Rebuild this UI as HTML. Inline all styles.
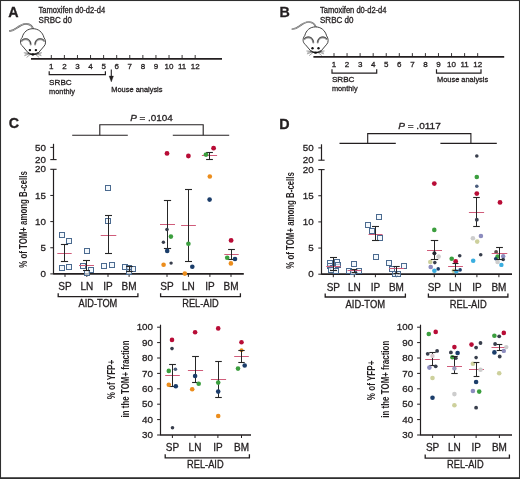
<!DOCTYPE html><html><head><meta charset="utf-8"><style>html,body{margin:0;padding:0;background:#fff;}svg{display:block;font-family:"Liberation Sans", sans-serif;will-change:transform}</style></head><body>
<svg width="520" height="479" viewBox="0 0 520 479"  fill="#231f20">
<rect x="0" y="0" width="520" height="479" fill="#fff"/>
<text x="8.3" y="17.2" font-size="14.3" font-weight="bold" stroke="#231f20" stroke-width="0.3" >A</text>
<text x="38.6" y="13.1" font-size="8.2" textLength="66.5" lengthAdjust="spacingAndGlyphs" stroke="#231f20" stroke-width="0.3" >Tamoxifen d0-d2-d4</text>
<text x="38.6" y="22.7" font-size="8.2" textLength="33.4" lengthAdjust="spacingAndGlyphs" stroke="#231f20" stroke-width="0.3" >SRBC d0</text>
<g transform="translate(0,0)" fill="none" stroke-linecap="round" stroke-linejoin="round">
<path d="M33.2,28.9 C32.4,26.2 30,24.1 26.5,23.8 C22.5,23.5 19.5,25.8 16.5,28.2 C14.5,29.8 12.3,31.0 9.8,30.8" stroke="#5e5e5e" stroke-width="1.7"/>
<path d="M33.2,28.9 C32.4,26.2 30,24.1 26.5,23.8 C22.5,23.5 19.5,25.8 16.5,28.2 C14.5,29.8 12.3,31.0 9.8,30.8" stroke="#d8d8d8" stroke-width="0.6"/>
<path d="M22.3,46.0 C20.0,44.5 19.8,40.0 22.1,37.6 C23.5,32.0 27.5,28.7 32.9,28.7 C38.3,28.7 42.5,32.0 44.0,37.6 C46.0,40.0 46.0,44.5 44.2,46.0 L38.6,52.6 C36.0,55.0 30.0,55.0 28.0,52.6 Z" stroke="#2e2e2e" stroke-width="0.9" fill="#fff"/>
<path d="M21.8,40.3 C23.4,38.4 27.4,37.9 29.4,40.3 C30.3,41.4 30.7,42.6 30.7,43.8" stroke="#9a9a9a" stroke-width="2.0" transform="translate(0,0.6)"/>
<path d="M21.8,40.3 C23.4,38.4 27.4,37.9 29.4,40.3 C30.3,41.4 30.7,42.6 30.7,43.8" stroke="#333" stroke-width="0.8"/>
<path d="M44.0,40.3 C42.4,38.4 38.4,37.9 36.4,40.3 C35.5,41.4 35.1,42.6 35.1,43.8" stroke="#9a9a9a" stroke-width="2.0" transform="translate(0,0.6)"/>
<path d="M44.0,40.3 C42.4,38.4 38.4,37.9 36.4,40.3 C35.5,41.4 35.1,42.6 35.1,43.8" stroke="#333" stroke-width="0.8"/>
<path d="M28.3,52.9 C30.5,54.9 35.5,54.9 38.3,52.9" stroke="#1a1a1a" stroke-width="1.3"/>
<line x1="29.0" y1="53.0" x2="24.2" y2="52.8" stroke="#555" stroke-width="0.55"/>
<line x1="36.8" y1="53.0" x2="41.599999999999994" y2="52.8" stroke="#555" stroke-width="0.55"/>
<line x1="29.4" y1="53.9" x2="24.7" y2="55.6" stroke="#555" stroke-width="0.55"/>
<line x1="36.4" y1="53.9" x2="41.099999999999994" y2="55.6" stroke="#555" stroke-width="0.55"/>
<line x1="30.0" y1="54.6" x2="26.9" y2="57.2" stroke="#555" stroke-width="0.55"/>
<line x1="35.8" y1="54.6" x2="38.9" y2="57.2" stroke="#555" stroke-width="0.55"/>
<line x1="29.2" y1="53.5" x2="25.2" y2="54.0" stroke="#555" stroke-width="0.55"/>
<line x1="36.599999999999994" y1="53.5" x2="40.599999999999994" y2="54.0" stroke="#555" stroke-width="0.55"/>
</g>
<g transform="translate(0,0)" fill="#111">
<circle cx="29.9" cy="50.1" r="1.2"/><circle cx="35.9" cy="50.1" r="1.2"/>
<ellipse cx="32.9" cy="54.5" rx="1.6" ry="1.15"/>
</g>
<line x1="31.00" y1="58.80" x2="222.00" y2="58.80" stroke="#231f20" stroke-width="1.7" />
<line x1="51.30" y1="55.00" x2="51.30" y2="58.80" stroke="#231f20" stroke-width="0.9" />
<text x="51.30" y="69.4" font-size="8" text-anchor="middle" stroke="#231f20" stroke-width="0.3" >1</text>
<line x1="64.38" y1="55.00" x2="64.38" y2="58.80" stroke="#231f20" stroke-width="0.9" />
<text x="64.38" y="69.4" font-size="8" text-anchor="middle" stroke="#231f20" stroke-width="0.3" >2</text>
<line x1="77.46" y1="55.00" x2="77.46" y2="58.80" stroke="#231f20" stroke-width="0.9" />
<text x="77.46" y="69.4" font-size="8" text-anchor="middle" stroke="#231f20" stroke-width="0.3" >3</text>
<line x1="90.54" y1="55.00" x2="90.54" y2="58.80" stroke="#231f20" stroke-width="0.9" />
<text x="90.54" y="69.4" font-size="8" text-anchor="middle" stroke="#231f20" stroke-width="0.3" >4</text>
<line x1="103.62" y1="55.00" x2="103.62" y2="58.80" stroke="#231f20" stroke-width="0.9" />
<text x="103.62" y="69.4" font-size="8" text-anchor="middle" stroke="#231f20" stroke-width="0.3" >5</text>
<line x1="116.70" y1="55.00" x2="116.70" y2="58.80" stroke="#231f20" stroke-width="0.9" />
<text x="116.70" y="69.4" font-size="8" text-anchor="middle" stroke="#231f20" stroke-width="0.3" >6</text>
<line x1="129.78" y1="55.00" x2="129.78" y2="58.80" stroke="#231f20" stroke-width="0.9" />
<text x="129.78" y="69.4" font-size="8" text-anchor="middle" stroke="#231f20" stroke-width="0.3" >7</text>
<line x1="142.86" y1="55.00" x2="142.86" y2="58.80" stroke="#231f20" stroke-width="0.9" />
<text x="142.86" y="69.4" font-size="8" text-anchor="middle" stroke="#231f20" stroke-width="0.3" >8</text>
<line x1="155.94" y1="55.00" x2="155.94" y2="58.80" stroke="#231f20" stroke-width="0.9" />
<text x="155.94" y="69.4" font-size="8" text-anchor="middle" stroke="#231f20" stroke-width="0.3" >9</text>
<line x1="169.02" y1="55.00" x2="169.02" y2="58.80" stroke="#231f20" stroke-width="0.9" />
<text x="169.02" y="69.4" font-size="8" text-anchor="middle" stroke="#231f20" stroke-width="0.3" >10</text>
<line x1="182.10" y1="55.00" x2="182.10" y2="58.80" stroke="#231f20" stroke-width="0.9" />
<text x="182.10" y="69.4" font-size="8" text-anchor="middle" stroke="#231f20" stroke-width="0.3" >11</text>
<line x1="195.18" y1="55.00" x2="195.18" y2="58.80" stroke="#231f20" stroke-width="0.9" />
<text x="195.18" y="69.4" font-size="8" text-anchor="middle" stroke="#231f20" stroke-width="0.3" >12</text>
<path d="M49.2,71.2 V74.7 H105.4 V71.2" stroke="#231f20" stroke-width="1.2" fill="none" />
<text x="49.1" y="85.0" font-size="8.0" textLength="22.6" lengthAdjust="spacingAndGlyphs" stroke="#231f20" stroke-width="0.3" >SRBC</text>
<text x="49.1" y="94.0" font-size="7.8" textLength="25.8" lengthAdjust="spacingAndGlyphs" stroke="#231f20" stroke-width="0.3" >monthly</text>
<line x1="111.30" y1="69.60" x2="111.30" y2="77.00" stroke="#231f20" stroke-width="1.1" />
<path d="M109.1,76 L113.5,76 L111.3,82 Z" stroke="#231f20" stroke-width="0.3" fill="#231f20" />
<text x="111.3" y="91.5" font-size="7.8" textLength="51.2" lengthAdjust="spacingAndGlyphs" stroke="#231f20" stroke-width="0.3" >Mouse analysis</text>
<text x="279.6" y="16.9" font-size="14.3" font-weight="bold" stroke="#231f20" stroke-width="0.3" >B</text>
<text x="320.0" y="13.1" font-size="8.2" textLength="66.5" lengthAdjust="spacingAndGlyphs" stroke="#231f20" stroke-width="0.3" >Tamoxifen d0-d2-d4</text>
<text x="320.0" y="22.7" font-size="8.2" textLength="33.4" lengthAdjust="spacingAndGlyphs" stroke="#231f20" stroke-width="0.3" >SRBC d0</text>
<g transform="translate(282.6,-1.8)" fill="none" stroke-linecap="round" stroke-linejoin="round">
<path d="M33.2,28.9 C32.4,26.2 30,24.1 26.5,23.8 C22.5,23.5 19.5,25.8 16.5,28.2 C14.5,29.8 12.3,31.0 9.8,30.8" stroke="#5e5e5e" stroke-width="1.7"/>
<path d="M33.2,28.9 C32.4,26.2 30,24.1 26.5,23.8 C22.5,23.5 19.5,25.8 16.5,28.2 C14.5,29.8 12.3,31.0 9.8,30.8" stroke="#d8d8d8" stroke-width="0.6"/>
<path d="M22.3,46.0 C20.0,44.5 19.8,40.0 22.1,37.6 C23.5,32.0 27.5,28.7 32.9,28.7 C38.3,28.7 42.5,32.0 44.0,37.6 C46.0,40.0 46.0,44.5 44.2,46.0 L38.6,52.6 C36.0,55.0 30.0,55.0 28.0,52.6 Z" stroke="#2e2e2e" stroke-width="0.9" fill="#fff"/>
<path d="M21.8,40.3 C23.4,38.4 27.4,37.9 29.4,40.3 C30.3,41.4 30.7,42.6 30.7,43.8" stroke="#9a9a9a" stroke-width="2.0" transform="translate(0,0.6)"/>
<path d="M21.8,40.3 C23.4,38.4 27.4,37.9 29.4,40.3 C30.3,41.4 30.7,42.6 30.7,43.8" stroke="#333" stroke-width="0.8"/>
<path d="M44.0,40.3 C42.4,38.4 38.4,37.9 36.4,40.3 C35.5,41.4 35.1,42.6 35.1,43.8" stroke="#9a9a9a" stroke-width="2.0" transform="translate(0,0.6)"/>
<path d="M44.0,40.3 C42.4,38.4 38.4,37.9 36.4,40.3 C35.5,41.4 35.1,42.6 35.1,43.8" stroke="#333" stroke-width="0.8"/>
<path d="M28.3,52.9 C30.5,54.9 35.5,54.9 38.3,52.9" stroke="#1a1a1a" stroke-width="1.3"/>
<line x1="29.0" y1="53.0" x2="24.2" y2="52.8" stroke="#555" stroke-width="0.55"/>
<line x1="36.8" y1="53.0" x2="41.599999999999994" y2="52.8" stroke="#555" stroke-width="0.55"/>
<line x1="29.4" y1="53.9" x2="24.7" y2="55.6" stroke="#555" stroke-width="0.55"/>
<line x1="36.4" y1="53.9" x2="41.099999999999994" y2="55.6" stroke="#555" stroke-width="0.55"/>
<line x1="30.0" y1="54.6" x2="26.9" y2="57.2" stroke="#555" stroke-width="0.55"/>
<line x1="35.8" y1="54.6" x2="38.9" y2="57.2" stroke="#555" stroke-width="0.55"/>
<line x1="29.2" y1="53.5" x2="25.2" y2="54.0" stroke="#555" stroke-width="0.55"/>
<line x1="36.599999999999994" y1="53.5" x2="40.599999999999994" y2="54.0" stroke="#555" stroke-width="0.55"/>
</g>
<g transform="translate(282.6,-1.8)" fill="#111">
<circle cx="29.9" cy="50.1" r="1.2"/><circle cx="35.9" cy="50.1" r="1.2"/>
<ellipse cx="32.9" cy="54.5" rx="1.6" ry="1.15"/>
</g>
<line x1="313.40" y1="56.90" x2="504.20" y2="56.90" stroke="#231f20" stroke-width="1.7" />
<line x1="334.00" y1="53.10" x2="334.00" y2="56.90" stroke="#231f20" stroke-width="0.9" />
<text x="334.00" y="67.3" font-size="8" text-anchor="middle" stroke="#231f20" stroke-width="0.3" >1</text>
<line x1="347.06" y1="53.10" x2="347.06" y2="56.90" stroke="#231f20" stroke-width="0.9" />
<text x="347.06" y="67.3" font-size="8" text-anchor="middle" stroke="#231f20" stroke-width="0.3" >2</text>
<line x1="360.12" y1="53.10" x2="360.12" y2="56.90" stroke="#231f20" stroke-width="0.9" />
<text x="360.12" y="67.3" font-size="8" text-anchor="middle" stroke="#231f20" stroke-width="0.3" >3</text>
<line x1="373.18" y1="53.10" x2="373.18" y2="56.90" stroke="#231f20" stroke-width="0.9" />
<text x="373.18" y="67.3" font-size="8" text-anchor="middle" stroke="#231f20" stroke-width="0.3" >4</text>
<line x1="386.24" y1="53.10" x2="386.24" y2="56.90" stroke="#231f20" stroke-width="0.9" />
<text x="386.24" y="67.3" font-size="8" text-anchor="middle" stroke="#231f20" stroke-width="0.3" >5</text>
<line x1="399.30" y1="53.10" x2="399.30" y2="56.90" stroke="#231f20" stroke-width="0.9" />
<text x="399.30" y="67.3" font-size="8" text-anchor="middle" stroke="#231f20" stroke-width="0.3" >6</text>
<line x1="412.36" y1="53.10" x2="412.36" y2="56.90" stroke="#231f20" stroke-width="0.9" />
<text x="412.36" y="67.3" font-size="8" text-anchor="middle" stroke="#231f20" stroke-width="0.3" >7</text>
<line x1="425.42" y1="53.10" x2="425.42" y2="56.90" stroke="#231f20" stroke-width="0.9" />
<text x="425.42" y="67.3" font-size="8" text-anchor="middle" stroke="#231f20" stroke-width="0.3" >8</text>
<line x1="438.48" y1="53.10" x2="438.48" y2="56.90" stroke="#231f20" stroke-width="0.9" />
<text x="438.48" y="67.3" font-size="8" text-anchor="middle" stroke="#231f20" stroke-width="0.3" >9</text>
<line x1="451.54" y1="53.10" x2="451.54" y2="56.90" stroke="#231f20" stroke-width="0.9" />
<text x="451.54" y="67.3" font-size="8" text-anchor="middle" stroke="#231f20" stroke-width="0.3" >10</text>
<line x1="464.60" y1="53.10" x2="464.60" y2="56.90" stroke="#231f20" stroke-width="0.9" />
<text x="464.60" y="67.3" font-size="8" text-anchor="middle" stroke="#231f20" stroke-width="0.3" >11</text>
<line x1="477.66" y1="53.10" x2="477.66" y2="56.90" stroke="#231f20" stroke-width="0.9" />
<text x="477.66" y="67.3" font-size="8" text-anchor="middle" stroke="#231f20" stroke-width="0.3" >12</text>
<path d="M332,69.2 V73.2 H376.7 V69.2" stroke="#231f20" stroke-width="1.2" fill="none" />
<text x="331.9" y="82.0" font-size="8.0" textLength="22.6" lengthAdjust="spacingAndGlyphs" stroke="#231f20" stroke-width="0.3" >SRBC</text>
<text x="331.9" y="91.4" font-size="7.8" textLength="25.7" lengthAdjust="spacingAndGlyphs" stroke="#231f20" stroke-width="0.3" >monthly</text>
<path d="M436.5,69.2 V73.2 H481 V69.2" stroke="#231f20" stroke-width="1.2" fill="none" />
<text x="437.0" y="82.2" font-size="7.8" textLength="51.2" lengthAdjust="spacingAndGlyphs" stroke="#231f20" stroke-width="0.3" >Mouse analysis</text>
<text x="8.8" y="128.4" font-size="14.3" font-weight="bold" stroke="#231f20" stroke-width="0.3" >C</text>
<line x1="72.20" y1="135.20" x2="127.80" y2="135.20" stroke="#231f20" stroke-width="1.1" />
<line x1="172.80" y1="135.20" x2="229.20" y2="135.20" stroke="#231f20" stroke-width="1.1" />
<path d="M99.8,135.2 V124.8 H203.2 V135.2" stroke="#231f20" stroke-width="1.1" fill="none" />
<text x="130.2" y="120.7" font-size="9.5" textLength="42.6" lengthAdjust="spacingAndGlyphs" fill="#231f20" stroke="#231f20" stroke-width="0.3"><tspan font-style="italic">P</tspan> = .0104</text>
<line x1="53.50" y1="143.80" x2="53.50" y2="159.60" stroke="#231f20" stroke-width="1.2" />
<line x1="50.30" y1="147.40" x2="53.50" y2="147.40" stroke="#231f20" stroke-width="1.0" />
<line x1="50.30" y1="159.60" x2="56.60" y2="159.60" stroke="#231f20" stroke-width="1.1" />
<text x="46.0" y="150.5" font-size="9.8" text-anchor="end" stroke="#231f20" stroke-width="0.3" >50</text>
<text x="46.0" y="162.7" font-size="9.8" text-anchor="end" stroke="#231f20" stroke-width="0.3" >20</text>
<line x1="50.30" y1="169.30" x2="56.60" y2="169.30" stroke="#231f20" stroke-width="1.1" />
<line x1="53.50" y1="169.30" x2="53.50" y2="274.40" stroke="#231f20" stroke-width="1.2" />
<line x1="50.30" y1="247.75" x2="53.50" y2="247.75" stroke="#231f20" stroke-width="1.0" />
<text x="46.0" y="250.84999999999997" font-size="9.8" text-anchor="end" stroke="#231f20" stroke-width="0.3" >5</text>
<line x1="50.30" y1="221.60" x2="53.50" y2="221.60" stroke="#231f20" stroke-width="1.0" />
<text x="46.0" y="224.69999999999996" font-size="9.8" text-anchor="end" stroke="#231f20" stroke-width="0.3" >10</text>
<line x1="50.30" y1="195.45" x2="53.50" y2="195.45" stroke="#231f20" stroke-width="1.0" />
<text x="46.0" y="198.54999999999998" font-size="9.8" text-anchor="end" stroke="#231f20" stroke-width="0.3" >15</text>
<text x="46.0" y="172.39999999999995" font-size="9.8" text-anchor="end" stroke="#231f20" stroke-width="0.3" >20</text>
<line x1="50.30" y1="273.90" x2="53.50" y2="273.90" stroke="#231f20" stroke-width="1.0" />
<text x="46.0" y="277.0" font-size="9.8" text-anchor="end" stroke="#231f20" stroke-width="0.3" >0</text>
<text transform="translate(26.6,219.5) rotate(-90)" font-size="10" font-weight="bold" text-anchor="middle" textLength="96.5" lengthAdjust="spacingAndGlyphs" fill="#231f20">% of TOM+ among B-cells</text>
<line x1="53.50" y1="273.90" x2="243.80" y2="273.90" stroke="#231f20" stroke-width="1.7" />
<line x1="65.00" y1="273.90" x2="65.00" y2="276.90" stroke="#231f20" stroke-width="1.0" />
<text x="65.00" y="290.3" font-size="10.5" text-anchor="middle" textLength="13.34" lengthAdjust="spacingAndGlyphs" stroke="#231f20" stroke-width="0.3" >SP</text>
<line x1="86.80" y1="273.90" x2="86.80" y2="276.90" stroke="#231f20" stroke-width="1.0" />
<text x="86.80" y="290.3" font-size="10.5" text-anchor="middle" textLength="12.78" lengthAdjust="spacingAndGlyphs" stroke="#231f20" stroke-width="0.3" >LN</text>
<line x1="108.00" y1="273.90" x2="108.00" y2="276.90" stroke="#231f20" stroke-width="1.0" />
<text x="108.00" y="290.3" font-size="10.5" text-anchor="middle" textLength="9.45" lengthAdjust="spacingAndGlyphs" stroke="#231f20" stroke-width="0.3" >IP</text>
<line x1="129.10" y1="273.90" x2="129.10" y2="276.90" stroke="#231f20" stroke-width="1.0" />
<text x="129.10" y="290.3" font-size="10.5" text-anchor="middle" textLength="15.0" lengthAdjust="spacingAndGlyphs" stroke="#231f20" stroke-width="0.3" >BM</text>
<line x1="167.00" y1="273.90" x2="167.00" y2="276.90" stroke="#231f20" stroke-width="1.0" />
<text x="167.00" y="290.3" font-size="10.5" text-anchor="middle" textLength="13.34" lengthAdjust="spacingAndGlyphs" stroke="#231f20" stroke-width="0.3" >SP</text>
<line x1="188.40" y1="273.90" x2="188.40" y2="276.90" stroke="#231f20" stroke-width="1.0" />
<text x="188.40" y="290.3" font-size="10.5" text-anchor="middle" textLength="12.78" lengthAdjust="spacingAndGlyphs" stroke="#231f20" stroke-width="0.3" >LN</text>
<line x1="209.90" y1="273.90" x2="209.90" y2="276.90" stroke="#231f20" stroke-width="1.0" />
<text x="209.90" y="290.3" font-size="10.5" text-anchor="middle" textLength="9.45" lengthAdjust="spacingAndGlyphs" stroke="#231f20" stroke-width="0.3" >IP</text>
<line x1="231.00" y1="273.90" x2="231.00" y2="276.90" stroke="#231f20" stroke-width="1.0" />
<text x="231.00" y="290.3" font-size="10.5" text-anchor="middle" textLength="15.0" lengthAdjust="spacingAndGlyphs" stroke="#231f20" stroke-width="0.3" >BM</text>
<path d="M58.2,293.2 V296.6 H137.9 V293.2" stroke="#231f20" stroke-width="1.3" fill="none" />
<text x="97.9" y="307.2" font-size="10.2" text-anchor="middle" textLength="38.8" lengthAdjust="spacingAndGlyphs" stroke="#231f20" stroke-width="0.3" >AID-TOM</text>
<path d="M160.6,293.2 V296.6 H240.4 V293.2" stroke="#231f20" stroke-width="1.3" fill="none" />
<text x="200.5" y="307.2" font-size="10.2" text-anchor="middle" textLength="36.5" lengthAdjust="spacingAndGlyphs" stroke="#231f20" stroke-width="0.3" >REL-AID</text>
<rect x="59.50" y="232.50" width="5" height="5" fill="#eef5fb" fill-opacity="0.7" stroke="#4b6a8f" stroke-width="1.0"/>
<rect x="66.50" y="238.50" width="5" height="5" fill="#eef5fb" fill-opacity="0.7" stroke="#4b6a8f" stroke-width="1.0"/>
<rect x="59.50" y="265.50" width="5" height="5" fill="#eef5fb" fill-opacity="0.7" stroke="#4b6a8f" stroke-width="1.0"/>
<rect x="66.50" y="264.50" width="5" height="5" fill="#eef5fb" fill-opacity="0.7" stroke="#4b6a8f" stroke-width="1.0"/>
<line x1="57.30" y1="253.50" x2="71.70" y2="253.50" stroke="#d05c7a" stroke-width="1" />
<line x1="64.50" y1="244.50" x2="64.50" y2="261.50" stroke="#262626" stroke-width="1.05" />
<line x1="60.90" y1="244.50" x2="68.10" y2="244.50" stroke="#262626" stroke-width="1.1" />
<line x1="60.90" y1="261.50" x2="68.10" y2="261.50" stroke="#262626" stroke-width="1.1" />
<rect x="84.50" y="248.50" width="5" height="5" fill="#eef5fb" fill-opacity="0.7" stroke="#4b6a8f" stroke-width="1.0"/>
<rect x="80.50" y="263.50" width="5" height="5" fill="#eef5fb" fill-opacity="0.7" stroke="#4b6a8f" stroke-width="1.0"/>
<rect x="88.50" y="267.50" width="5" height="5" fill="#eef5fb" fill-opacity="0.7" stroke="#4b6a8f" stroke-width="1.0"/>
<rect x="84.50" y="270.50" width="5" height="5" fill="#eef5fb" fill-opacity="0.7" stroke="#4b6a8f" stroke-width="1.0"/>
<line x1="79.00" y1="265.50" x2="94.00" y2="265.50" stroke="#d05c7a" stroke-width="1" />
<line x1="86.50" y1="260.50" x2="86.50" y2="270.50" stroke="#262626" stroke-width="1.05" />
<line x1="83.00" y1="260.50" x2="90.00" y2="260.50" stroke="#262626" stroke-width="1.1" />
<line x1="83.00" y1="270.50" x2="90.00" y2="270.50" stroke="#262626" stroke-width="1.1" />
<rect x="105.50" y="185.50" width="5" height="5" fill="#eef5fb" fill-opacity="0.7" stroke="#4b6a8f" stroke-width="1.0"/>
<rect x="105.50" y="218.50" width="5" height="5" fill="#eef5fb" fill-opacity="0.7" stroke="#4b6a8f" stroke-width="1.0"/>
<rect x="101.50" y="263.50" width="5" height="5" fill="#eef5fb" fill-opacity="0.7" stroke="#4b6a8f" stroke-width="1.0"/>
<rect x="109.50" y="262.50" width="5" height="5" fill="#eef5fb" fill-opacity="0.7" stroke="#4b6a8f" stroke-width="1.0"/>
<line x1="100.70" y1="235.50" x2="116.30" y2="235.50" stroke="#d05c7a" stroke-width="1" />
<line x1="108.50" y1="215.50" x2="108.50" y2="253.50" stroke="#262626" stroke-width="1.05" />
<line x1="105.00" y1="215.50" x2="112.00" y2="215.50" stroke="#262626" stroke-width="1.1" />
<line x1="105.00" y1="253.50" x2="112.00" y2="253.50" stroke="#262626" stroke-width="1.1" />
<rect x="122.50" y="264.50" width="5" height="5" fill="#eef5fb" fill-opacity="0.7" stroke="#4b6a8f" stroke-width="1.0"/>
<rect x="130.50" y="266.50" width="5" height="5" fill="#eef5fb" fill-opacity="0.7" stroke="#4b6a8f" stroke-width="1.0"/>
<rect x="126.50" y="265.50" width="5" height="5" fill="#eef5fb" fill-opacity="0.7" stroke="#4b6a8f" stroke-width="1.0"/>
<rect x="126.50" y="269.50" width="5" height="5" fill="#eef5fb" fill-opacity="0.7" stroke="#4b6a8f" stroke-width="1.0"/>
<line x1="129.50" y1="266.50" x2="129.50" y2="271.50" stroke="#262626" stroke-width="1.05" />
<line x1="126.20" y1="266.50" x2="132.80" y2="266.50" stroke="#262626" stroke-width="1.1" />
<line x1="126.20" y1="271.50" x2="132.80" y2="271.50" stroke="#262626" stroke-width="1.1" />
<line x1="160.00" y1="224.50" x2="175.00" y2="224.50" stroke="#d05c7a" stroke-width="1" />
<line x1="167.50" y1="200.50" x2="167.50" y2="248.50" stroke="#262626" stroke-width="1.05" />
<line x1="163.90" y1="200.50" x2="171.10" y2="200.50" stroke="#262626" stroke-width="1.1" />
<line x1="163.90" y1="248.50" x2="171.10" y2="248.50" stroke="#262626" stroke-width="1.1" />
<circle cx="167.00" cy="153.40" r="2.4" fill="#b80c36"/>
<circle cx="167.00" cy="229.50" r="1.8" fill="#383e4c"/>
<circle cx="170.90" cy="236.60" r="2.3" fill="#3b9e3e"/>
<circle cx="163.40" cy="242.30" r="1.7" fill="#383e4c"/>
<circle cx="167.20" cy="250.90" r="2.3" fill="#1b3d6a"/>
<circle cx="163.60" cy="264.80" r="2.3" fill="#ec8d1c"/>
<circle cx="171.10" cy="263.10" r="1.7" fill="#383e4c"/>
<line x1="181.10" y1="225.50" x2="195.90" y2="225.50" stroke="#d05c7a" stroke-width="1" />
<line x1="188.50" y1="189.50" x2="188.50" y2="261.50" stroke="#262626" stroke-width="1.05" />
<line x1="185.00" y1="189.50" x2="192.00" y2="189.50" stroke="#262626" stroke-width="1.1" />
<line x1="185.00" y1="261.50" x2="192.00" y2="261.50" stroke="#262626" stroke-width="1.1" />
<circle cx="188.40" cy="156.00" r="2.4" fill="#b80c36"/>
<circle cx="188.40" cy="243.80" r="2.3" fill="#3b9e3e"/>
<circle cx="192.30" cy="266.80" r="2.3" fill="#1b3d6a"/>
<circle cx="184.80" cy="273.60" r="2.3" fill="#ec8d1c"/>
<circle cx="213.60" cy="148.20" r="2.4" fill="#b80c36"/>
<circle cx="209.80" cy="176.50" r="2.3" fill="#ec8d1c"/>
<circle cx="209.60" cy="199.60" r="2.3" fill="#1b3d6a"/>
<line x1="201.90" y1="155.50" x2="217.10" y2="155.50" stroke="#d05c7a" stroke-width="1" />
<line x1="209.50" y1="152.50" x2="209.50" y2="159.50" stroke="#262626" stroke-width="1.05" />
<line x1="206.10" y1="152.50" x2="212.90" y2="152.50" stroke="#262626" stroke-width="1.1" />
<line x1="206.10" y1="159.50" x2="212.90" y2="159.50" stroke="#262626" stroke-width="1.1" />
<clipPath id="gclip"><rect x="200" y="152.2" width="20" height="10"/></clipPath>
<circle cx="206.0" cy="154.6" r="2.4" fill="#3b9e3e" clip-path="url(#gclip)"/>
<circle cx="231.10" cy="240.40" r="2.4" fill="#b80c36"/>
<line x1="224.30" y1="254.50" x2="238.70" y2="254.50" stroke="#d05c7a" stroke-width="1" />
<line x1="231.50" y1="249.50" x2="231.50" y2="259.50" stroke="#262626" stroke-width="1.05" />
<line x1="228.10" y1="249.50" x2="234.90" y2="249.50" stroke="#262626" stroke-width="1.1" />
<line x1="228.10" y1="259.50" x2="234.90" y2="259.50" stroke="#262626" stroke-width="1.1" />
<circle cx="227.20" cy="257.70" r="2.3" fill="#3b9e3e"/>
<circle cx="235.00" cy="259.00" r="2.3" fill="#1b3d6a"/>
<circle cx="230.90" cy="263.40" r="2.3" fill="#ec8d1c"/>
<text x="279.3" y="128.9" font-size="14.3" font-weight="bold" stroke="#231f20" stroke-width="0.3" >D</text>
<line x1="339.50" y1="143.40" x2="395.80" y2="143.40" stroke="#231f20" stroke-width="1.1" />
<line x1="440.40" y1="143.40" x2="496.80" y2="143.40" stroke="#231f20" stroke-width="1.1" />
<path d="M367.7,143.4 V133.6 H470.9 V143.4" stroke="#231f20" stroke-width="1.1" fill="none" />
<text x="398.2" y="128.7" font-size="9.5" textLength="42.6" lengthAdjust="spacingAndGlyphs" fill="#231f20" stroke="#231f20" stroke-width="0.3"><tspan font-style="italic">P</tspan> = .0117</text>
<line x1="321.50" y1="144.30" x2="321.50" y2="160.20" stroke="#231f20" stroke-width="1.2" />
<line x1="318.30" y1="147.90" x2="321.50" y2="147.90" stroke="#231f20" stroke-width="1.0" />
<line x1="318.30" y1="160.20" x2="324.60" y2="160.20" stroke="#231f20" stroke-width="1.1" />
<text x="313.7" y="151.0" font-size="9.8" text-anchor="end" stroke="#231f20" stroke-width="0.3" >50</text>
<text x="313.7" y="163.29999999999998" font-size="9.8" text-anchor="end" stroke="#231f20" stroke-width="0.3" >20</text>
<line x1="318.30" y1="169.60" x2="324.60" y2="169.60" stroke="#231f20" stroke-width="1.1" />
<line x1="321.50" y1="169.60" x2="321.50" y2="274.70" stroke="#231f20" stroke-width="1.2" />
<line x1="318.30" y1="248.05" x2="321.50" y2="248.05" stroke="#231f20" stroke-width="1.0" />
<text x="313.7" y="251.14999999999998" font-size="9.8" text-anchor="end" stroke="#231f20" stroke-width="0.3" >5</text>
<line x1="318.30" y1="221.90" x2="321.50" y2="221.90" stroke="#231f20" stroke-width="1.0" />
<text x="313.7" y="224.99999999999997" font-size="9.8" text-anchor="end" stroke="#231f20" stroke-width="0.3" >10</text>
<line x1="318.30" y1="195.75" x2="321.50" y2="195.75" stroke="#231f20" stroke-width="1.0" />
<text x="313.7" y="198.85" font-size="9.8" text-anchor="end" stroke="#231f20" stroke-width="0.3" >15</text>
<text x="313.7" y="172.69999999999996" font-size="9.8" text-anchor="end" stroke="#231f20" stroke-width="0.3" >20</text>
<line x1="318.30" y1="274.20" x2="321.50" y2="274.20" stroke="#231f20" stroke-width="1.0" />
<text x="313.7" y="277.3" font-size="9.8" text-anchor="end" stroke="#231f20" stroke-width="0.3" >0</text>
<text transform="translate(294.1,220.4) rotate(-90)" font-size="10" font-weight="bold" text-anchor="middle" textLength="96.5" lengthAdjust="spacingAndGlyphs" fill="#231f20">% of TOM+ among B-cells</text>
<line x1="321.40" y1="274.20" x2="512.00" y2="274.20" stroke="#231f20" stroke-width="1.7" />
<line x1="333.30" y1="274.20" x2="333.30" y2="277.20" stroke="#231f20" stroke-width="1.0" />
<text x="333.30" y="290.7" font-size="10.5" text-anchor="middle" textLength="13.34" lengthAdjust="spacingAndGlyphs" stroke="#231f20" stroke-width="0.3" >SP</text>
<line x1="354.30" y1="274.20" x2="354.30" y2="277.20" stroke="#231f20" stroke-width="1.0" />
<text x="354.30" y="290.7" font-size="10.5" text-anchor="middle" textLength="12.78" lengthAdjust="spacingAndGlyphs" stroke="#231f20" stroke-width="0.3" >LN</text>
<line x1="375.40" y1="274.20" x2="375.40" y2="277.20" stroke="#231f20" stroke-width="1.0" />
<text x="375.40" y="290.7" font-size="10.5" text-anchor="middle" textLength="9.45" lengthAdjust="spacingAndGlyphs" stroke="#231f20" stroke-width="0.3" >IP</text>
<line x1="396.40" y1="274.20" x2="396.40" y2="277.20" stroke="#231f20" stroke-width="1.0" />
<text x="396.40" y="290.7" font-size="10.5" text-anchor="middle" textLength="15.0" lengthAdjust="spacingAndGlyphs" stroke="#231f20" stroke-width="0.3" >BM</text>
<line x1="434.30" y1="274.20" x2="434.30" y2="277.20" stroke="#231f20" stroke-width="1.0" />
<text x="434.30" y="290.7" font-size="10.5" text-anchor="middle" textLength="13.34" lengthAdjust="spacingAndGlyphs" stroke="#231f20" stroke-width="0.3" >SP</text>
<line x1="455.40" y1="274.20" x2="455.40" y2="277.20" stroke="#231f20" stroke-width="1.0" />
<text x="455.40" y="290.7" font-size="10.5" text-anchor="middle" textLength="12.78" lengthAdjust="spacingAndGlyphs" stroke="#231f20" stroke-width="0.3" >LN</text>
<line x1="476.90" y1="274.20" x2="476.90" y2="277.20" stroke="#231f20" stroke-width="1.0" />
<text x="476.90" y="290.7" font-size="10.5" text-anchor="middle" textLength="9.45" lengthAdjust="spacingAndGlyphs" stroke="#231f20" stroke-width="0.3" >IP</text>
<line x1="498.90" y1="274.20" x2="498.90" y2="277.20" stroke="#231f20" stroke-width="1.0" />
<text x="498.90" y="290.7" font-size="10.5" text-anchor="middle" textLength="15.0" lengthAdjust="spacingAndGlyphs" stroke="#231f20" stroke-width="0.3" >BM</text>
<path d="M325.2,293.6 V297.0 H405.4 V293.6" stroke="#231f20" stroke-width="1.3" fill="none" />
<text x="365.3" y="308.0" font-size="10.2" text-anchor="middle" textLength="39.6" lengthAdjust="spacingAndGlyphs" stroke="#231f20" stroke-width="0.3" >AID-TOM</text>
<path d="M428.4,293.6 V297.0 H507.9 V293.6" stroke="#231f20" stroke-width="1.3" fill="none" />
<text x="468.2" y="308.0" font-size="10.2" text-anchor="middle" textLength="36.9" lengthAdjust="spacingAndGlyphs" stroke="#231f20" stroke-width="0.3" >REL-AID</text>
<rect x="327.50" y="260.50" width="5" height="5" fill="#eef5fb" fill-opacity="0.7" stroke="#4b6a8f" stroke-width="1.0"/>
<rect x="334.50" y="259.50" width="5" height="5" fill="#eef5fb" fill-opacity="0.7" stroke="#4b6a8f" stroke-width="1.0"/>
<rect x="327.50" y="263.50" width="5" height="5" fill="#eef5fb" fill-opacity="0.7" stroke="#4b6a8f" stroke-width="1.0"/>
<rect x="335.50" y="262.50" width="5" height="5" fill="#eef5fb" fill-opacity="0.7" stroke="#4b6a8f" stroke-width="1.0"/>
<rect x="330.50" y="265.50" width="5" height="5" fill="#eef5fb" fill-opacity="0.7" stroke="#4b6a8f" stroke-width="1.0"/>
<rect x="333.50" y="268.50" width="5" height="5" fill="#eef5fb" fill-opacity="0.7" stroke="#4b6a8f" stroke-width="1.0"/>
<rect x="328.50" y="267.50" width="5" height="5" fill="#eef5fb" fill-opacity="0.7" stroke="#4b6a8f" stroke-width="1.0"/>
<line x1="326.30" y1="266.50" x2="340.70" y2="266.50" stroke="#d05c7a" stroke-width="1" />
<line x1="333.50" y1="257.50" x2="333.50" y2="270.50" stroke="#262626" stroke-width="1.05" />
<line x1="330.00" y1="257.50" x2="337.00" y2="257.50" stroke="#262626" stroke-width="1.1" />
<line x1="330.00" y1="270.50" x2="337.00" y2="270.50" stroke="#262626" stroke-width="1.1" />
<rect x="351.50" y="261.50" width="5" height="5" fill="#eef5fb" fill-opacity="0.7" stroke="#4b6a8f" stroke-width="1.0"/>
<rect x="346.50" y="268.50" width="5" height="5" fill="#eef5fb" fill-opacity="0.7" stroke="#4b6a8f" stroke-width="1.0"/>
<rect x="350.50" y="269.50" width="5" height="5" fill="#eef5fb" fill-opacity="0.7" stroke="#4b6a8f" stroke-width="1.0"/>
<rect x="356.50" y="268.50" width="5" height="5" fill="#eef5fb" fill-opacity="0.7" stroke="#4b6a8f" stroke-width="1.0"/>
<line x1="347.60" y1="270.50" x2="361.40" y2="270.50" stroke="#d05c7a" stroke-width="1" />
<line x1="354.50" y1="269.50" x2="354.50" y2="272.50" stroke="#262626" stroke-width="1.05" />
<line x1="351.70" y1="269.50" x2="357.30" y2="269.50" stroke="#262626" stroke-width="1.1" />
<line x1="351.70" y1="272.50" x2="357.30" y2="272.50" stroke="#262626" stroke-width="1.1" />
<rect x="376.50" y="214.50" width="5" height="5" fill="#eef5fb" fill-opacity="0.7" stroke="#4b6a8f" stroke-width="1.0"/>
<rect x="365.50" y="222.50" width="5" height="5" fill="#eef5fb" fill-opacity="0.7" stroke="#4b6a8f" stroke-width="1.0"/>
<rect x="369.50" y="228.50" width="5" height="5" fill="#eef5fb" fill-opacity="0.7" stroke="#4b6a8f" stroke-width="1.0"/>
<rect x="377.50" y="235.50" width="5" height="5" fill="#eef5fb" fill-opacity="0.7" stroke="#4b6a8f" stroke-width="1.0"/>
<rect x="373.50" y="254.50" width="5" height="5" fill="#eef5fb" fill-opacity="0.7" stroke="#4b6a8f" stroke-width="1.0"/>
<line x1="368.50" y1="234.50" x2="382.50" y2="234.50" stroke="#d05c7a" stroke-width="1" />
<line x1="375.50" y1="226.50" x2="375.50" y2="240.50" stroke="#262626" stroke-width="1.05" />
<line x1="372.00" y1="226.50" x2="379.00" y2="226.50" stroke="#262626" stroke-width="1.1" />
<line x1="372.00" y1="240.50" x2="379.00" y2="240.50" stroke="#262626" stroke-width="1.1" />
<rect x="386.50" y="260.50" width="5" height="5" fill="#eef5fb" fill-opacity="0.7" stroke="#4b6a8f" stroke-width="1.0"/>
<rect x="401.50" y="263.50" width="5" height="5" fill="#eef5fb" fill-opacity="0.7" stroke="#4b6a8f" stroke-width="1.0"/>
<rect x="389.50" y="266.50" width="5" height="5" fill="#eef5fb" fill-opacity="0.7" stroke="#4b6a8f" stroke-width="1.0"/>
<rect x="392.50" y="271.50" width="5" height="5" fill="#eef5fb" fill-opacity="0.7" stroke="#4b6a8f" stroke-width="1.0"/>
<rect x="395.50" y="271.50" width="5" height="5" fill="#eef5fb" fill-opacity="0.7" stroke="#4b6a8f" stroke-width="1.0"/>
<line x1="389.00" y1="268.50" x2="404.00" y2="268.50" stroke="#d05c7a" stroke-width="1" />
<line x1="396.50" y1="266.50" x2="396.50" y2="273.50" stroke="#262626" stroke-width="1.05" />
<line x1="393.30" y1="266.50" x2="399.70" y2="266.50" stroke="#262626" stroke-width="1.1" />
<line x1="393.30" y1="273.50" x2="399.70" y2="273.50" stroke="#262626" stroke-width="1.1" />
<line x1="427.00" y1="250.50" x2="442.00" y2="250.50" stroke="#d05c7a" stroke-width="1" />
<line x1="434.50" y1="240.50" x2="434.50" y2="259.50" stroke="#262626" stroke-width="1.05" />
<line x1="430.80" y1="240.50" x2="438.20" y2="240.50" stroke="#262626" stroke-width="1.1" />
<line x1="430.80" y1="259.50" x2="438.20" y2="259.50" stroke="#262626" stroke-width="1.1" />
<circle cx="434.30" cy="183.60" r="2.4" fill="#b80c36"/>
<circle cx="434.30" cy="229.90" r="2.3" fill="#3b9e3e"/>
<circle cx="434.40" cy="253.20" r="2.0" fill="#222630"/>
<circle cx="438.60" cy="256.60" r="2.3" fill="#cdcdcd"/>
<circle cx="430.30" cy="262.00" r="2.3" fill="#cdd09c"/>
<circle cx="434.80" cy="262.60" r="1.8" fill="#383e4c"/>
<circle cx="430.70" cy="267.00" r="2.3" fill="#8c8cbe"/>
<circle cx="434.40" cy="270.80" r="2.3" fill="#3aaee0"/>
<circle cx="438.20" cy="268.90" r="1.8" fill="#1b3d6a"/>
<circle cx="459.70" cy="255.70" r="1.8" fill="#383e4c"/>
<circle cx="451.70" cy="258.80" r="2.3" fill="#3b9e3e"/>
<circle cx="455.70" cy="261.40" r="2.4" fill="#b80c36"/>
<circle cx="453.80" cy="270.80" r="2.3" fill="#cdd09c"/>
<circle cx="456.40" cy="271.40" r="2.2" fill="#3aaee0"/>
<circle cx="460.10" cy="269.90" r="1.8" fill="#1b3d6a"/>
<line x1="448.10" y1="266.50" x2="462.90" y2="266.50" stroke="#d05c7a" stroke-width="1" />
<line x1="455.50" y1="263.50" x2="455.50" y2="270.50" stroke="#262626" stroke-width="1.05" />
<line x1="452.50" y1="263.50" x2="458.50" y2="263.50" stroke="#262626" stroke-width="1.1" />
<line x1="452.50" y1="270.50" x2="458.50" y2="270.50" stroke="#262626" stroke-width="1.1" />
<line x1="468.90" y1="212.50" x2="484.10" y2="212.50" stroke="#d05c7a" stroke-width="1" />
<line x1="476.50" y1="197.50" x2="476.50" y2="226.50" stroke="#262626" stroke-width="1.05" />
<line x1="473.20" y1="197.50" x2="479.80" y2="197.50" stroke="#262626" stroke-width="1.1" />
<line x1="473.20" y1="226.50" x2="479.80" y2="226.50" stroke="#262626" stroke-width="1.1" />
<circle cx="476.80" cy="156.00" r="1.8" fill="#383e4c"/>
<circle cx="476.80" cy="177.00" r="2.3" fill="#3b9e3e"/>
<circle cx="476.80" cy="186.20" r="1.8" fill="#4b5d7c"/>
<circle cx="476.80" cy="193.60" r="2.4" fill="#b80c36"/>
<circle cx="476.80" cy="219.70" r="1.9" fill="#383e4c"/>
<circle cx="472.90" cy="238.20" r="2.3" fill="#cdcdcd"/>
<circle cx="480.90" cy="236.00" r="2.3" fill="#8c8cbe"/>
<circle cx="477.20" cy="241.60" r="2.3" fill="#cdd09c"/>
<circle cx="480.70" cy="254.80" r="1.8" fill="#383e4c"/>
<circle cx="473.20" cy="260.70" r="2.3" fill="#3aaee0"/>
<circle cx="500.00" cy="202.40" r="2.4" fill="#b80c36"/>
<circle cx="496.10" cy="252.00" r="1.9" fill="#5a4a48"/>
<circle cx="497.60" cy="256.60" r="2.3" fill="#3b9e3e"/>
<circle cx="503.20" cy="256.30" r="2.2" fill="#8c8cbe"/>
<circle cx="495.70" cy="258.80" r="1.8" fill="#1b3d6a"/>
<circle cx="503.20" cy="259.50" r="1.8" fill="#383e4c"/>
<circle cx="497.60" cy="262.00" r="2.3" fill="#cdcdcd"/>
<circle cx="501.40" cy="264.90" r="2.2" fill="#3aaee0"/>
<line x1="491.70" y1="253.50" x2="507.30" y2="253.50" stroke="#d05c7a" stroke-width="1" />
<line x1="499.50" y1="247.50" x2="499.50" y2="259.50" stroke="#262626" stroke-width="1.05" />
<line x1="496.10" y1="247.50" x2="502.90" y2="247.50" stroke="#262626" stroke-width="1.1" />
<line x1="496.10" y1="259.50" x2="502.90" y2="259.50" stroke="#262626" stroke-width="1.1" />
<line x1="160.50" y1="324.70" x2="160.50" y2="435.50" stroke="#231f20" stroke-width="1.2" />
<line x1="157.10" y1="435.00" x2="160.50" y2="435.00" stroke="#231f20" stroke-width="1.0" />
<text x="153.0" y="438.2" font-size="9.8" text-anchor="end" stroke="#231f20" stroke-width="0.3" >30</text>
<line x1="157.10" y1="419.60" x2="160.50" y2="419.60" stroke="#231f20" stroke-width="1.0" />
<text x="153.0" y="422.8" font-size="9.8" text-anchor="end" stroke="#231f20" stroke-width="0.3" >40</text>
<line x1="157.10" y1="404.20" x2="160.50" y2="404.20" stroke="#231f20" stroke-width="1.0" />
<text x="153.0" y="407.4" font-size="9.8" text-anchor="end" stroke="#231f20" stroke-width="0.3" >50</text>
<line x1="157.10" y1="388.80" x2="160.50" y2="388.80" stroke="#231f20" stroke-width="1.0" />
<text x="153.0" y="392.0" font-size="9.8" text-anchor="end" stroke="#231f20" stroke-width="0.3" >60</text>
<line x1="157.10" y1="373.40" x2="160.50" y2="373.40" stroke="#231f20" stroke-width="1.0" />
<text x="153.0" y="376.59999999999997" font-size="9.8" text-anchor="end" stroke="#231f20" stroke-width="0.3" >70</text>
<line x1="157.10" y1="358.00" x2="160.50" y2="358.00" stroke="#231f20" stroke-width="1.0" />
<text x="153.0" y="361.2" font-size="9.8" text-anchor="end" stroke="#231f20" stroke-width="0.3" >80</text>
<line x1="157.10" y1="342.60" x2="160.50" y2="342.60" stroke="#231f20" stroke-width="1.0" />
<text x="153.0" y="345.8" font-size="9.8" text-anchor="end" stroke="#231f20" stroke-width="0.3" >90</text>
<line x1="157.10" y1="327.20" x2="160.50" y2="327.20" stroke="#231f20" stroke-width="1.0" />
<text x="153.0" y="330.4" font-size="9.8" text-anchor="end" stroke="#231f20" stroke-width="0.3" >100</text>
<text transform="translate(115.0,379.6) rotate(-90)" font-size="10" font-weight="bold" text-anchor="middle" textLength="39.5" lengthAdjust="spacingAndGlyphs" fill="#231f20">% of YFP+</text>
<text transform="translate(129.3,379.0) rotate(-90)" font-size="10" font-weight="bold" text-anchor="middle" textLength="77" lengthAdjust="spacingAndGlyphs" fill="#231f20">in the TOM+ fraction</text>
<line x1="160.50" y1="435.00" x2="251.00" y2="435.00" stroke="#231f20" stroke-width="1.7" />
<line x1="172.40" y1="435.00" x2="172.40" y2="438.00" stroke="#231f20" stroke-width="1.0" />
<text x="172.40" y="451.0" font-size="10.5" text-anchor="middle" textLength="13.34" lengthAdjust="spacingAndGlyphs" stroke="#231f20" stroke-width="0.3" >SP</text>
<line x1="195.00" y1="435.00" x2="195.00" y2="438.00" stroke="#231f20" stroke-width="1.0" />
<text x="195.00" y="451.0" font-size="10.5" text-anchor="middle" textLength="12.78" lengthAdjust="spacingAndGlyphs" stroke="#231f20" stroke-width="0.3" >LN</text>
<line x1="217.90" y1="435.00" x2="217.90" y2="438.00" stroke="#231f20" stroke-width="1.0" />
<text x="217.90" y="451.0" font-size="10.5" text-anchor="middle" textLength="9.45" lengthAdjust="spacingAndGlyphs" stroke="#231f20" stroke-width="0.3" >IP</text>
<line x1="241.50" y1="435.00" x2="241.50" y2="438.00" stroke="#231f20" stroke-width="1.0" />
<text x="241.50" y="451.0" font-size="10.5" text-anchor="middle" textLength="15.0" lengthAdjust="spacingAndGlyphs" stroke="#231f20" stroke-width="0.3" >BM</text>
<path d="M165.2,454.2 V457.8 H249.4 V454.2" stroke="#231f20" stroke-width="1.3" fill="none" />
<text x="205.3" y="468.4" font-size="10.2" text-anchor="middle" textLength="36.6" lengthAdjust="spacingAndGlyphs" stroke="#231f20" stroke-width="0.3" >REL-AID</text>
<line x1="165.20" y1="375.50" x2="179.80" y2="375.50" stroke="#d05c7a" stroke-width="1" />
<line x1="172.50" y1="364.50" x2="172.50" y2="386.50" stroke="#262626" stroke-width="1.05" />
<line x1="169.10" y1="364.50" x2="175.90" y2="364.50" stroke="#262626" stroke-width="1.1" />
<line x1="169.10" y1="386.50" x2="175.90" y2="386.50" stroke="#262626" stroke-width="1.1" />
<circle cx="172.00" cy="339.90" r="2.3" fill="#b80c36"/>
<circle cx="172.00" cy="348.60" r="1.8" fill="#383e4c"/>
<circle cx="175.40" cy="369.20" r="1.8" fill="#4b5d7c"/>
<circle cx="168.80" cy="370.90" r="2.3" fill="#3b9e3e"/>
<circle cx="168.80" cy="384.80" r="2.3" fill="#ec8d1c"/>
<circle cx="175.80" cy="386.30" r="2.3" fill="#1b3d6a"/>
<circle cx="172.50" cy="427.80" r="1.8" fill="#383e4c"/>
<line x1="187.90" y1="370.50" x2="203.10" y2="370.50" stroke="#d05c7a" stroke-width="1" />
<line x1="195.50" y1="356.50" x2="195.50" y2="382.50" stroke="#262626" stroke-width="1.05" />
<line x1="192.10" y1="356.50" x2="198.90" y2="356.50" stroke="#262626" stroke-width="1.1" />
<line x1="192.10" y1="382.50" x2="198.90" y2="382.50" stroke="#262626" stroke-width="1.1" />
<circle cx="195.10" cy="332.20" r="2.3" fill="#b80c36"/>
<circle cx="195.10" cy="376.00" r="2.3" fill="#1b3d6a"/>
<circle cx="198.70" cy="383.80" r="2.3" fill="#3b9e3e"/>
<circle cx="192.20" cy="389.20" r="2.3" fill="#ec8d1c"/>
<line x1="210.90" y1="379.50" x2="226.10" y2="379.50" stroke="#d05c7a" stroke-width="1" />
<line x1="218.50" y1="361.50" x2="218.50" y2="397.50" stroke="#262626" stroke-width="1.05" />
<line x1="215.20" y1="361.50" x2="221.80" y2="361.50" stroke="#262626" stroke-width="1.1" />
<line x1="215.20" y1="397.50" x2="221.80" y2="397.50" stroke="#262626" stroke-width="1.1" />
<circle cx="218.20" cy="328.40" r="2.3" fill="#b80c36"/>
<circle cx="218.20" cy="382.60" r="2.3" fill="#3b9e3e"/>
<circle cx="218.20" cy="391.60" r="2.3" fill="#1b3d6a"/>
<circle cx="218.20" cy="416.00" r="2.3" fill="#ec8d1c"/>
<circle cx="241.50" cy="342.30" r="2.3" fill="#b80c36"/>
<circle cx="241.50" cy="350.30" r="2.0" fill="#ec8d1c"/>
<line x1="234.20" y1="356.50" x2="248.80" y2="356.50" stroke="#d05c7a" stroke-width="1" />
<line x1="241.50" y1="350.50" x2="241.50" y2="362.50" stroke="#262626" stroke-width="1.05" />
<line x1="238.30" y1="350.50" x2="244.70" y2="350.50" stroke="#262626" stroke-width="1.1" />
<line x1="238.30" y1="362.50" x2="244.70" y2="362.50" stroke="#262626" stroke-width="1.1" />
<circle cx="244.70" cy="365.50" r="2.3" fill="#1b3d6a"/>
<circle cx="238.00" cy="368.60" r="2.3" fill="#3b9e3e"/>
<line x1="420.50" y1="324.70" x2="420.50" y2="435.50" stroke="#231f20" stroke-width="1.2" />
<line x1="417.10" y1="435.00" x2="420.50" y2="435.00" stroke="#231f20" stroke-width="1.0" />
<text x="413.2" y="438.2" font-size="9.8" text-anchor="end" stroke="#231f20" stroke-width="0.3" >30</text>
<line x1="417.10" y1="419.60" x2="420.50" y2="419.60" stroke="#231f20" stroke-width="1.0" />
<text x="413.2" y="422.8" font-size="9.8" text-anchor="end" stroke="#231f20" stroke-width="0.3" >40</text>
<line x1="417.10" y1="404.20" x2="420.50" y2="404.20" stroke="#231f20" stroke-width="1.0" />
<text x="413.2" y="407.4" font-size="9.8" text-anchor="end" stroke="#231f20" stroke-width="0.3" >50</text>
<line x1="417.10" y1="388.80" x2="420.50" y2="388.80" stroke="#231f20" stroke-width="1.0" />
<text x="413.2" y="392.0" font-size="9.8" text-anchor="end" stroke="#231f20" stroke-width="0.3" >60</text>
<line x1="417.10" y1="373.40" x2="420.50" y2="373.40" stroke="#231f20" stroke-width="1.0" />
<text x="413.2" y="376.59999999999997" font-size="9.8" text-anchor="end" stroke="#231f20" stroke-width="0.3" >70</text>
<line x1="417.10" y1="358.00" x2="420.50" y2="358.00" stroke="#231f20" stroke-width="1.0" />
<text x="413.2" y="361.2" font-size="9.8" text-anchor="end" stroke="#231f20" stroke-width="0.3" >80</text>
<line x1="417.10" y1="342.60" x2="420.50" y2="342.60" stroke="#231f20" stroke-width="1.0" />
<text x="413.2" y="345.8" font-size="9.8" text-anchor="end" stroke="#231f20" stroke-width="0.3" >90</text>
<line x1="417.10" y1="327.20" x2="420.50" y2="327.20" stroke="#231f20" stroke-width="1.0" />
<text x="413.2" y="330.4" font-size="9.8" text-anchor="end" stroke="#231f20" stroke-width="0.3" >100</text>
<text transform="translate(375.0,380.4) rotate(-90)" font-size="10" font-weight="bold" text-anchor="middle" textLength="39.5" lengthAdjust="spacingAndGlyphs" fill="#231f20">% of YFP+</text>
<text transform="translate(389.1,379.2) rotate(-90)" font-size="10" font-weight="bold" text-anchor="middle" textLength="77" lengthAdjust="spacingAndGlyphs" fill="#231f20">in the TOM+ fraction</text>
<line x1="420.50" y1="435.00" x2="512.00" y2="435.00" stroke="#231f20" stroke-width="1.7" />
<line x1="432.60" y1="435.00" x2="432.60" y2="438.00" stroke="#231f20" stroke-width="1.0" />
<text x="432.60" y="451.3" font-size="10.5" text-anchor="middle" textLength="13.34" lengthAdjust="spacingAndGlyphs" stroke="#231f20" stroke-width="0.3" >SP</text>
<line x1="454.40" y1="435.00" x2="454.40" y2="438.00" stroke="#231f20" stroke-width="1.0" />
<text x="454.40" y="451.3" font-size="10.5" text-anchor="middle" textLength="12.78" lengthAdjust="spacingAndGlyphs" stroke="#231f20" stroke-width="0.3" >LN</text>
<line x1="476.10" y1="435.00" x2="476.10" y2="438.00" stroke="#231f20" stroke-width="1.0" />
<text x="476.10" y="451.3" font-size="10.5" text-anchor="middle" textLength="9.45" lengthAdjust="spacingAndGlyphs" stroke="#231f20" stroke-width="0.3" >IP</text>
<line x1="499.40" y1="435.00" x2="499.40" y2="438.00" stroke="#231f20" stroke-width="1.0" />
<text x="499.40" y="451.3" font-size="10.5" text-anchor="middle" textLength="15.0" lengthAdjust="spacingAndGlyphs" stroke="#231f20" stroke-width="0.3" >BM</text>
<path d="M425.2,454.5 V458.1 H509.4 V454.5" stroke="#231f20" stroke-width="1.3" fill="none" />
<text x="465.3" y="468.3" font-size="10.2" text-anchor="middle" textLength="36.6" lengthAdjust="spacingAndGlyphs" stroke="#231f20" stroke-width="0.3" >REL-AID</text>
<circle cx="428.80" cy="334.00" r="2.3" fill="#3b9e3e"/>
<circle cx="435.70" cy="331.90" r="2.3" fill="#b80c36"/>
<circle cx="427.70" cy="353.80" r="1.9" fill="#383e4c"/>
<circle cx="437.10" cy="350.90" r="1.9" fill="#383e4c"/>
<line x1="425.20" y1="359.50" x2="439.80" y2="359.50" stroke="#d05c7a" stroke-width="1" />
<line x1="432.50" y1="352.50" x2="432.50" y2="365.50" stroke="#262626" stroke-width="1.05" />
<line x1="429.30" y1="352.50" x2="435.70" y2="352.50" stroke="#262626" stroke-width="1.1" />
<line x1="429.30" y1="365.50" x2="435.70" y2="365.50" stroke="#262626" stroke-width="1.1" />
<circle cx="432.50" cy="355.90" r="2.2" fill="#d8c8cc"/>
<circle cx="429.40" cy="367.60" r="2.3" fill="#8c8cbe"/>
<circle cx="435.70" cy="366.30" r="1.9" fill="#383e4c"/>
<circle cx="432.50" cy="378.00" r="2.3" fill="#cdd09c"/>
<circle cx="432.50" cy="397.70" r="2.3" fill="#1b3d6a"/>
<circle cx="454.40" cy="347.10" r="2.3" fill="#b80c36"/>
<circle cx="450.90" cy="352.40" r="1.9" fill="#383e4c"/>
<circle cx="457.60" cy="353.00" r="2.3" fill="#1b3d6a"/>
<circle cx="452.40" cy="357.20" r="2.3" fill="#3b9e3e"/>
<circle cx="455.90" cy="358.20" r="1.8" fill="#383e4c"/>
<line x1="447.00" y1="366.50" x2="462.00" y2="366.50" stroke="#d05c7a" stroke-width="1" />
<line x1="454.50" y1="356.50" x2="454.50" y2="373.50" stroke="#262626" stroke-width="1.05" />
<line x1="451.30" y1="356.50" x2="457.70" y2="356.50" stroke="#262626" stroke-width="1.1" />
<line x1="451.30" y1="373.50" x2="457.70" y2="373.50" stroke="#262626" stroke-width="1.1" />
<circle cx="454.40" cy="368.40" r="2.2" fill="#9b9bbb"/>
<circle cx="454.40" cy="394.10" r="2.3" fill="#cdcdcd"/>
<circle cx="454.40" cy="405.20" r="2.3" fill="#cdd09c"/>
<circle cx="471.50" cy="344.60" r="2.3" fill="#b80c36"/>
<circle cx="480.50" cy="343.00" r="1.9" fill="#383e4c"/>
<circle cx="476.10" cy="347.60" r="1.9" fill="#383e4c"/>
<circle cx="476.10" cy="357.60" r="1.8" fill="#383e4c"/>
<circle cx="472.90" cy="363.80" r="2.3" fill="#cdd09c"/>
<line x1="469.00" y1="369.50" x2="484.00" y2="369.50" stroke="#d05c7a" stroke-width="1" />
<line x1="476.50" y1="362.50" x2="476.50" y2="376.50" stroke="#262626" stroke-width="1.05" />
<line x1="473.60" y1="362.50" x2="479.40" y2="362.50" stroke="#262626" stroke-width="1.1" />
<line x1="473.60" y1="376.50" x2="479.40" y2="376.50" stroke="#262626" stroke-width="1.1" />
<circle cx="480.50" cy="369.70" r="2.3" fill="#cdcdcd"/>
<circle cx="476.10" cy="382.00" r="2.3" fill="#1b3d6a"/>
<circle cx="472.90" cy="391.00" r="2.3" fill="#8c8cbe"/>
<circle cx="479.20" cy="391.60" r="2.3" fill="#3b9e3e"/>
<circle cx="476.10" cy="407.70" r="1.9" fill="#383e4c"/>
<circle cx="503.80" cy="332.90" r="2.3" fill="#b80c36"/>
<circle cx="494.40" cy="335.70" r="2.3" fill="#3b9e3e"/>
<circle cx="499.20" cy="336.30" r="1.9" fill="#383e4c"/>
<circle cx="495.10" cy="344.00" r="1.9" fill="#383e4c"/>
<line x1="491.50" y1="347.50" x2="507.50" y2="347.50" stroke="#d05c7a" stroke-width="1" />
<line x1="499.50" y1="344.50" x2="499.50" y2="350.50" stroke="#262626" stroke-width="1.05" />
<line x1="496.70" y1="344.50" x2="502.30" y2="344.50" stroke="#262626" stroke-width="1.1" />
<line x1="496.70" y1="350.50" x2="502.30" y2="350.50" stroke="#262626" stroke-width="1.1" />
<circle cx="506.30" cy="347.10" r="2.2" fill="#cdcdcd"/>
<circle cx="494.40" cy="352.40" r="2.3" fill="#1b3d6a"/>
<circle cx="503.80" cy="350.90" r="2.2" fill="#8c8cbe"/>
<circle cx="499.70" cy="356.50" r="1.9" fill="#383e4c"/>
<circle cx="499.20" cy="373.20" r="2.3" fill="#cdd09c"/>
<rect x="0.5" y="0.5" width="519" height="477.5" fill="none" stroke="#2e2e2e" stroke-width="1.1"/>
<line x1="0" y1="478.3" x2="520" y2="478.3" stroke="#2e2e2e" stroke-width="1.4"/>
</svg></body></html>
